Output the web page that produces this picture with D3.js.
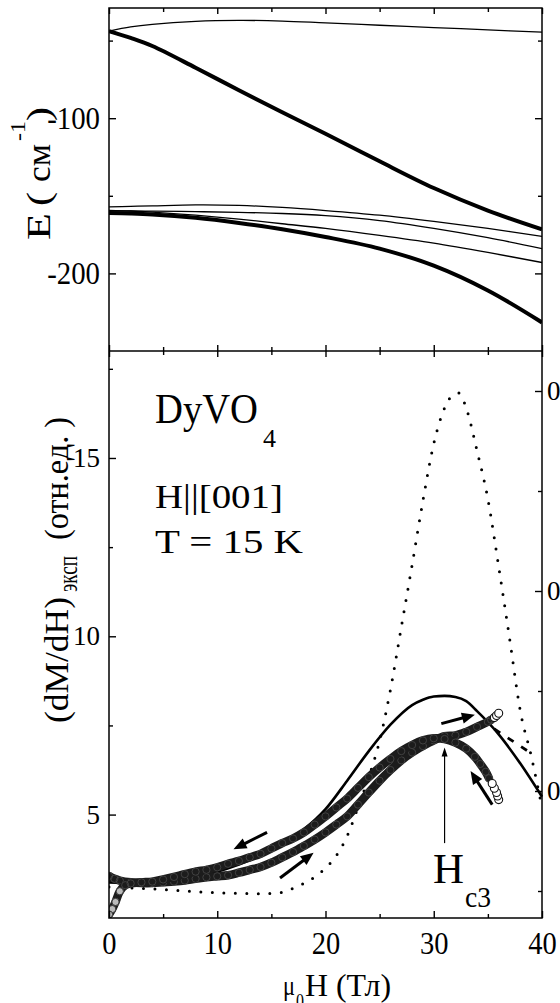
<!DOCTYPE html>
<html>
<head>
<meta charset="utf-8">
<style>
  body { margin: 0; background: #fff; }
  svg { display: block; }
  text { font-family: "Liberation Serif", "Times New Roman", serif; fill: #000; }
  .axis line { stroke: #000; stroke-width: 1.4; }
</style>
</head>
<body>
<svg width="560" height="1003"></svg>
<script src="https://d3js.org/d3.v7.min.js"></script>
<script>
// ---- top panel: energy levels E (cm^-1) vs field ----
var fieldTop   = [0, 2, 4, 8, 12, 16, 20, 25, 30, 35, 40];
var levelTop   = [-43.9, -41.2, -39.5, -37.6, -37.0, -37.4, -38.6, -40.1, -41.6, -43.1, -44.6];
var levelFall  = [-43.9, -48.3, -53.5, -67.5, -82, -96.2, -110, -127.8, -145, -159.5, -171.6];
var levelA     = [-157.2, -156.8, -156.5, -155.9, -156.2, -157.5, -159.5, -162.5, -166.5, -171, -176.1];
var levelB     = [-159.8, -159.8, -159.9, -160.2, -160.7, -161.4, -162.8, -166, -171, -177, -184];
var levelC     = [-159.4, -159.8, -160.5, -162.5, -165, -168, -171, -175.5, -180.5, -186.5, -193];
var levelLow   = [-161.1, -161.4, -162, -164.2, -167.5, -171.5, -176.5, -184, -195, -211, -231.6];

// ---- bottom panel: dM/dH ----
var fieldSolid = [0, 2, 4, 6, 8, 10, 12, 14, 16, 18, 20, 22, 24, 26, 28, 29, 30, 31, 32, 33, 34, 36, 38, 40];
var dmdhSolid  = [3.1, 3.08, 3.1, 3.15, 3.25, 3.4, 3.6, 3.85, 4.15, 4.58, 5.15, 5.95, 6.78, 7.52, 8.07, 8.22, 8.31, 8.33, 8.3, 8.18, 7.9, 7.25, 6.43, 5.5];

var fieldDots  = [0, 2, 4, 6, 8, 10, 12, 14, 16, 17, 18, 19, 20, 21, 22, 23, 24, 25, 26, 27, 28, 29, 30, 31, 31.6, 32.3, 33, 34, 35, 36, 37, 38, 39, 40];
var dmdhDots   = [2.97, 2.94, 2.92, 2.88, 2.84, 2.81, 2.79, 2.78, 2.82, 2.93, 3.07, 3.25, 3.5, 3.85, 4.4, 5.2, 6.05, 7.07, 8.5, 10.25, 12.0, 13.8, 15.4, 16.4, 16.72, 16.82, 16.4, 15.2, 13.85, 11.95, 9.95, 7.9, 6.65, 5.2];

var fieldUp    = [0, 0.5, 1, 2, 3, 4, 5, 6, 7, 8, 9, 10, 11, 12, 13, 14, 15, 16, 17, 18, 19, 20, 21, 22, 23, 24, 25, 26, 27, 28, 29, 30, 31, 32, 33, 34, 35, 35.3, 35.6, 35.8, 36];
var dmdhUp     = [3.28, 3.2, 3.15, 3.1, 3.08, 3.08, 3.1, 3.12, 3.15, 3.2, 3.24, 3.27, 3.3, 3.37, 3.45, 3.53, 3.65, 3.8, 3.95, 4.12, 4.3, 4.5, 4.72, 4.95, 5.28, 5.62, 5.95, 6.25, 6.52, 6.74, 6.92, 7.08, 7.2, 7.22, 7.32, 7.46, 7.6, 7.66, 7.72, 7.78, 7.84];

var fieldDown  = [36, 35.9, 35.8, 35.6, 35.4, 35.1, 34.8, 34.3, 33.8, 33, 32, 31, 30, 29, 28, 27, 26, 25, 24, 23, 22, 21, 20, 19, 18, 17, 16, 15, 14, 13, 12, 11, 10, 9, 8, 7, 6, 5, 4, 3, 2, 1.5, 1, 0.6, 0.3, 0];
var dmdhDown   = [5.42, 5.52, 5.62, 5.74, 5.87, 6.02, 6.2, 6.42, 6.62, 6.85, 7.02, 7.12, 7.14, 7.08, 6.95, 6.78, 6.56, 6.32, 6.05, 5.75, 5.45, 5.2, 4.95, 4.72, 4.5, 4.33, 4.2, 4.05, 3.9, 3.8, 3.7, 3.62, 3.52, 3.45, 3.4, 3.33, 3.25, 3.18, 3.12, 3.1, 3.07, 3.02, 2.85, 2.55, 2.35, 2.2];

var dashField  = [35.6, 39.0];
var dashDmdh   = [7.4, 6.72];

// sweep arrows: [fromField, fromValue, toField, toValue]
var sweepArrows = [[14.6, 4.5, 11.5, 4.03], [15.8, 3.22, 18.9, 3.93], [30.7, 7.55, 33.8, 7.8], [35.4, 5.28, 33.4, 6.22]];
var hc3Arrow = [31.0, 4.2, 31.0, 6.88];

var xMajor = [0, 10, 20, 30, 40], xMinor = [5, 15, 25, 35];
var serif = '"Liberation Serif", "Times New Roman", serif';

var svg = d3.select("svg");
var x = d3.scaleLinear().domain([0, 40]).range([109, 542]);
var yTop = d3.scaleLinear().domain([-250, -29]).range([351, 8]);
var yBot = d3.scaleLinear().domain([2.1, 18]).range([918, 351]);
var yRight = d3.scaleLinear().domain([0.073, 0.64]).range([918, 351]);

function zip(a, b) { return a.map(function (v, i) { return [v, b[i]]; }); }

function squeeze(sel, k) {
    sel.each(function () {
        var w = this.getComputedTextLength();
        d3.select(this).attr("textLength", w * k).attr("lengthAdjust", "spacingAndGlyphs");
    });
}

function addAxis(axis, tr, values, size, fmt, fontSize, pad) {
    var g = svg.append("g").attr("class", "axis").attr("transform", tr)
        .call(axis.tickValues(values).tickSize(size).tickPadding(pad || 3)
            .tickFormat(fmt ? function (d) { return fmt(d); } : ""));
    g.attr("font-family", null).attr("font-size", null);
    g.select(".domain").remove();
    g.selectAll("text").style("font-family", serif).style("font-size", (fontSize || 10) + "px").style("fill", "#000");
    return g;
}

var defs = svg.append("defs");
defs.append("clipPath").attr("id", "clipTop").append("rect").attr("x", 109).attr("y", 8).attr("width", 433).attr("height", 343);
defs.append("clipPath").attr("id", "clipBot").append("rect").attr("x", 109).attr("y", 351).attr("width", 436).attr("height", 567);

// ---------- top panel ----------
var lineTop = d3.line().x(function (d) { return x(d[0]); }).y(function (d) { return yTop(d[1]); }).curve(d3.curveCatmullRom.alpha(0.5));
var topPanel = svg.append("g").attr("clip-path", "url(#clipTop)");
[[levelTop, 1.3], [levelA, 1.3], [levelB, 1.3], [levelC, 1.3], [levelFall, 4], [levelLow, 4]].forEach(function (s) {
    topPanel.append("path").attr("d", lineTop(zip(fieldTop, s[0])))
        .attr("fill", "none").attr("stroke", "#000").attr("stroke-width", s[1]);
});

var str = function (d) { return String(d); };
var tl = addAxis(d3.axisLeft(yTop), "translate(109,0)", [-100, -200], -7, str, 32, 9);
squeeze(tl.selectAll("text"), 0.9);
addAxis(d3.axisLeft(yTop), "translate(109,0)", [-50, -150], -4);
addAxis(d3.axisRight(yTop), "translate(542,0)", [-100, -200], -7);
addAxis(d3.axisRight(yTop), "translate(542,0)", [-50, -150], -4);
addAxis(d3.axisTop(x), "translate(0,8)", xMajor, -6);
addAxis(d3.axisTop(x), "translate(0,8)", xMinor, -4);
addAxis(d3.axisBottom(x), "translate(0,351)", xMajor, -6);
addAxis(d3.axisBottom(x), "translate(0,351)", xMinor, -4);

// ---------- bottom panel ----------
var lineBot = d3.line().x(function (d) { return x(d[0]); }).y(function (d) { return yBot(d[1]); }).curve(d3.curveMonotoneX);
var lineBand = d3.line().x(function (d) { return x(d[0]); }).y(function (d) { return yBot(d[1]); }).curve(d3.curveCatmullRom);
var botPanel = svg.append("g").attr("clip-path", "url(#clipBot)");

botPanel.append("path").attr("d", lineBot(zip(fieldDots, dmdhDots)))
    .attr("fill", "none").attr("stroke", "#000").attr("stroke-width", 3)
    .attr("stroke-linecap", "round").attr("stroke-dasharray", "0 11.5");

botPanel.append("path").attr("d", lineBot(zip(fieldSolid, dmdhSolid)))
    .attr("fill", "none").attr("stroke", "#000").attr("stroke-width", 2.6);

botPanel.append("path").attr("d", lineBot(zip(dashField, dashDmdh)))
    .attr("fill", "none").attr("stroke", "#000").attr("stroke-width", 2.8).attr("stroke-dasharray", "7 9");

function isOpen(d) { return d[0] > 35.3; }
[zip(fieldUp, dmdhUp), zip(fieldDown, dmdhDown)].forEach(function (pts) {
    var band = pts.filter(function (d) { return !isOpen(d); });
    botPanel.append("path").attr("d", lineBand(band))
        .attr("fill", "none").attr("stroke", "#1c1c1c").attr("stroke-width", 8.5)
        .attr("stroke-linejoin", "round").attr("stroke-linecap", "round");
    botPanel.selectAll(null).data(band).enter().append("circle")
        .attr("cx", function (d) { return x(d[0]); }).attr("cy", function (d) { return yBot(d[1]); })
        .attr("r", 3.6).attr("fill", "none").attr("stroke", "#4a4a4a").attr("stroke-width", 0.8);
    botPanel.selectAll(null).data(pts.filter(isOpen)).enter().append("circle")
        .attr("cx", function (d) { return x(d[0]); }).attr("cy", function (d) { return yBot(d[1]); })
        .attr("r", 4).attr("fill", "#fff").attr("stroke", "#111").attr("stroke-width", 1.1);
});
// low-field dip drawn as light open circles
botPanel.selectAll(null).data(zip(fieldDown, dmdhDown).filter(function (d) { return d[0] < 1.2; })).enter().append("circle")
    .attr("cx", function (d) { return x(d[0]); }).attr("cy", function (d) { return yBot(d[1]); })
    .attr("r", 3.6).attr("fill", "#bbb").attr("stroke", "#333").attr("stroke-width", 1);

function arrow(a, w, hl, hw) {
    var x0 = x(a[0]), y0 = yBot(a[1]), x1 = x(a[2]), y1 = yBot(a[3]);
    var dx = x1 - x0, dy = y1 - y0, L = Math.sqrt(dx * dx + dy * dy);
    var ux = dx / L, uy = dy / L, bx = x1 - ux * hl, by = y1 - uy * hl;
    svg.append("line").attr("x1", x0).attr("y1", y0).attr("x2", bx + ux).attr("y2", by + uy)
        .attr("stroke", "#000").attr("stroke-width", w);
    svg.append("path").attr("fill", "#000")
        .attr("d", "M" + x1 + "," + y1 + "L" + (bx - uy * hw) + "," + (by + ux * hw) + "L" + (bx + uy * hw) + "," + (by - ux * hw) + "Z");
}
sweepArrows.forEach(function (a) { arrow(a, 3, 13, 5.5); });
arrow(hc3Arrow, 1.2, 9, 3);

var fx = addAxis(d3.axisBottom(x), "translate(0,918)", xMajor, -7, str, 31, 14);
squeeze(fx.selectAll("text"), 0.92);
addAxis(d3.axisBottom(x), "translate(0,918)", xMinor, -4);
addAxis(d3.axisTop(x), "translate(0,351)", xMajor, -6);
addAxis(d3.axisTop(x), "translate(0,351)", xMinor, -4);
addAxis(d3.axisLeft(yBot), "translate(109,0)", [5, 10, 15], -7, str, 27, 9);
addAxis(d3.axisLeft(yBot), "translate(109,0)", [7.5, 12.5, 17.5], -4);
addAxis(d3.axisRight(yRight), "translate(542,0)", [0.2, 0.4, 0.6], -7, function (d) { return d.toFixed(1); }, 27, 5);
addAxis(d3.axisRight(yRight), "translate(542,0)", [0.1, 0.3, 0.5], -4);

// frames
svg.append("rect").attr("x", 109).attr("y", 8).attr("width", 433).attr("height", 910)
    .attr("fill", "none").attr("stroke", "#000").attr("stroke-width", 1.5);
svg.append("line").attr("x1", 109).attr("x2", 542).attr("y1", 351).attr("y2", 351)
    .attr("stroke", "#000").attr("stroke-width", 1.5);

// ---------- texts ----------
function label(parent, txt, px, py, size, len) {
    var t = parent.append("text").attr("x", px).attr("y", py)
        .style("font-family", serif).style("font-size", size + "px").text(txt);
    if (len) t.attr("textLength", len).attr("lengthAdjust", "spacingAndGlyphs");
    return t;
}
label(svg, "DyVO", 155, 423, 42, 103);
label(svg, "4", 263, 447, 26);
label(svg, "H||[001]", 155, 508, 34, 128);
label(svg, "T = 15 K", 155, 553, 34, 148);
label(svg, "H", 433, 883, 42, 31);
label(svg, "c3", 465, 907, 30, 26);

label(svg, "\u03bc", 283, 995, 28, 12);
label(svg, "0", 296, 1008, 22, 8);
label(svg, "H (Тл)", 305, 996, 32, 86);

var yl = svg.append("g").attr("transform", "translate(50,242) rotate(-90)");
label(yl, "E", 2, 0, 34, 27);
label(yl, "(", 36, 0, 34, 14);
label(yl, "см", 60, 0, 34, 38);
label(yl, "-1", 101, -25, 22, 20);
label(yl, ")", 121, 0, 34, 14);

var yb = svg.append("g").attr("transform", "translate(68,723) rotate(-90)");
label(yb, "(dM/dH)", 0, 0, 34, 126);
label(yb, "эксп", 131, 9, 28, 36);
label(yb, "(отн.ед. )", 183, 0, 34, 123);
</script>
</body>
</html>
